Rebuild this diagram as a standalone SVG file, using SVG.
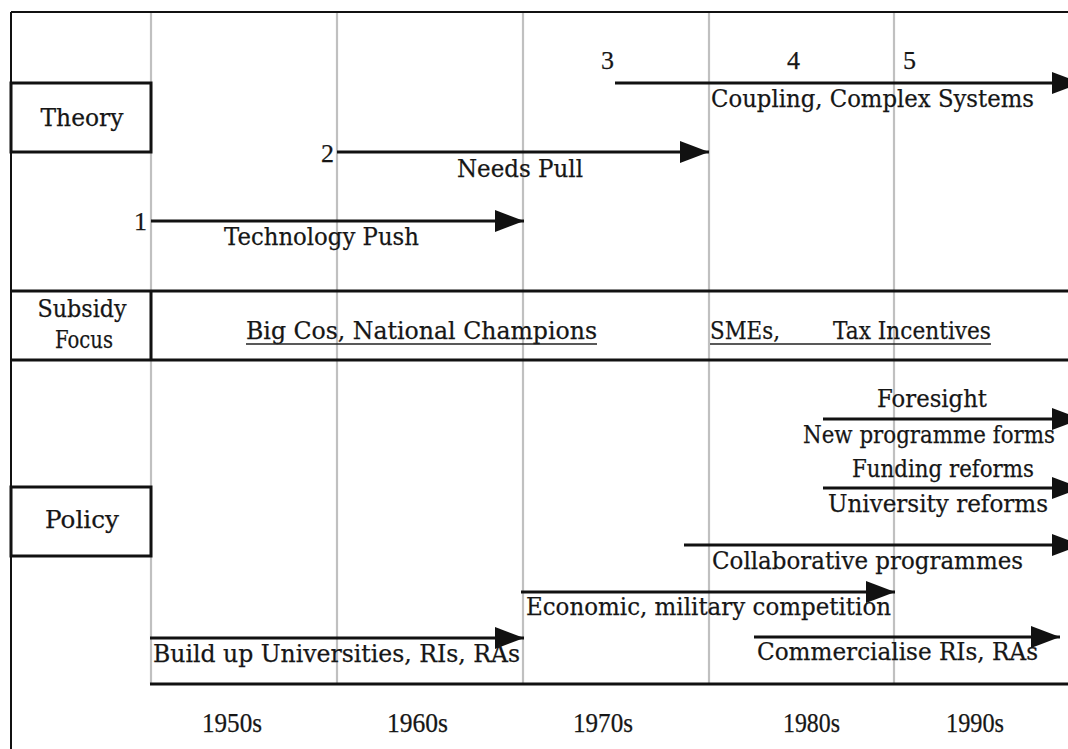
<svg xmlns="http://www.w3.org/2000/svg" width="1068" height="749" viewBox="0 0 1068 749">
  <style>
    text { font-family: "DejaVu Serif", "Liberation Serif", serif; font-size: 25px; fill: #161616; stroke: #161616; stroke-width: 0.25; }
    .num { font-family: "Liberation Serif", "DejaVu Serif", serif; font-size: 26px; }
    .dec { font-family: "Liberation Serif", "DejaVu Serif", serif; font-size: 27px; }
    .grid { stroke: #c0c0c0; stroke-width: 2.2; fill: none; }
    .frame { stroke: #111; stroke-width: 2; fill: none; }
    .box { stroke: #111; stroke-width: 3; fill: #fff; }
    .rule { stroke: #111; stroke-width: 3; fill: none; }
    .arrow { stroke: #111; stroke-width: 3; fill: none; marker-end: url(#head); }
    .ul { stroke: #222; stroke-width: 1.5; }
  </style>
  <defs>
    <marker id="head" viewBox="0 0 29 22" refX="29" refY="11" markerWidth="29" markerHeight="22" markerUnits="userSpaceOnUse" orient="auto">
      <path d="M0,0 L29,11 L0,22 z" fill="#111"/>
    </marker>
  </defs>
  <rect x="0" y="0" width="1068" height="749" fill="#fff"/>

  <g id="grid">
    <line class="grid" x1="151" y1="12" x2="151" y2="684"/>
    <line class="grid" x1="337" y1="12" x2="337" y2="684"/>
    <line class="grid" x1="523" y1="12" x2="523" y2="684"/>
    <line class="grid" x1="709" y1="12" x2="709" y2="684"/>
    <line class="grid" x1="894" y1="12" x2="894" y2="684"/>
  </g>

  <g id="frame">
    <line class="frame" x1="11" y1="12" x2="1068" y2="12"/>
    <line class="frame" x1="11" y1="12" x2="11" y2="749"/>
    <line class="rule" x1="150" y1="684" x2="1068" y2="684"/>
  </g>

  <g id="theory">
    <rect class="box" x="11" y="83" width="140" height="69"/>
    <text x="82" y="126" text-anchor="middle" textLength="83" lengthAdjust="spacingAndGlyphs">Theory</text>
  </g>

  <g id="subsidy">
    <line class="rule" x1="11" y1="291" x2="1068" y2="291"/>
    <line class="rule" x1="11" y1="360" x2="1068" y2="360"/>
    <line class="rule" x1="151" y1="291" x2="151" y2="360"/>
    <text x="82" y="317" text-anchor="middle" textLength="89" lengthAdjust="spacingAndGlyphs">Subsidy</text>
    <text x="84" y="348" text-anchor="middle" textLength="58" lengthAdjust="spacingAndGlyphs">Focus</text>
  </g>

  <g id="subsidy-big">
    <text x="246" y="339" textLength="351" lengthAdjust="spacingAndGlyphs">Big Cos, National Champions</text>
    <line class="ul" x1="246" y1="344" x2="597" y2="344"/>
  </g>

  <g id="subsidy-sme">
    <text x="710" y="339" textLength="70" lengthAdjust="spacingAndGlyphs">SMEs,</text>
    <text x="833" y="339" textLength="158" lengthAdjust="spacingAndGlyphs">Tax Incentives</text>
    <line class="ul" x1="710" y1="344" x2="991" y2="344"/>
  </g>

  <g id="policy">
    <rect class="box" x="11" y="487" width="140" height="69"/>
    <text x="82" y="528" text-anchor="middle" textLength="74" lengthAdjust="spacingAndGlyphs">Policy</text>
  </g>

  <g id="connectors">
    <line class="arrow" x1="151" y1="221" x2="524" y2="221"/>
    <line class="arrow" x1="337" y1="152" x2="709" y2="152"/>
    <line class="arrow" x1="615" y1="83" x2="1081" y2="83"/>
    <line class="arrow" x1="823" y1="419" x2="1081" y2="419"/>
    <line class="arrow" x1="823" y1="488" x2="1081" y2="488"/>
    <line class="arrow" x1="684" y1="545" x2="1081" y2="545"/>
    <line class="arrow" x1="521" y1="592" x2="895" y2="592"/>
    <line class="arrow" x1="150" y1="638" x2="524" y2="638"/>
    <line class="arrow" x1="754" y1="637" x2="1060" y2="637"/>
  </g>

  <g id="tech-push">
    <text class="num" x="147" y="230" text-anchor="end">1</text>
    <text x="224" y="245" textLength="195" lengthAdjust="spacingAndGlyphs">Technology Push</text>
  </g>
  <g id="needs-pull">
    <text class="num" x="334" y="162" text-anchor="end">2</text>
    <text x="457" y="177" textLength="126" lengthAdjust="spacingAndGlyphs">Needs Pull</text>
  </g>
  <g id="coupling">
    <text class="num" x="601" y="69">3</text>
    <text class="num" x="787" y="69">4</text>
    <text class="num" x="903" y="69">5</text>
    <text x="711" y="107" textLength="323" lengthAdjust="spacingAndGlyphs">Coupling, Complex Systems</text>
  </g>

  <g id="foresight">
    <text x="877" y="407" textLength="110" lengthAdjust="spacingAndGlyphs">Foresight</text>
    <text x="803" y="443" textLength="252" lengthAdjust="spacingAndGlyphs">New programme forms</text>
  </g>
  <g id="funding">
    <text x="852" y="477" textLength="182" lengthAdjust="spacingAndGlyphs">Funding reforms</text>
    <text x="828" y="512" textLength="220" lengthAdjust="spacingAndGlyphs">University reforms</text>
  </g>
  <g id="collaborative">
    <text x="712" y="569" textLength="311" lengthAdjust="spacingAndGlyphs">Collaborative programmes</text>
  </g>
  <g id="economic">
    <text x="526" y="615" textLength="365" lengthAdjust="spacingAndGlyphs">Economic, military competition</text>
  </g>
  <g id="buildup">
    <text x="153" y="662" textLength="367" lengthAdjust="spacingAndGlyphs">Build up Universities, RIs, RAs</text>
  </g>
  <g id="commercialise">
    <text x="757" y="660" textLength="281" lengthAdjust="spacingAndGlyphs">Commercialise RIs, RAs</text>
  </g>

  <g id="decades">
    <text class="dec" x="202" y="732" textLength="60" lengthAdjust="spacingAndGlyphs">1950s</text>
    <text class="dec" x="387" y="732" textLength="61" lengthAdjust="spacingAndGlyphs">1960s</text>
    <text class="dec" x="573" y="732" textLength="60" lengthAdjust="spacingAndGlyphs">1970s</text>
    <text class="dec" x="783" y="732" textLength="57" lengthAdjust="spacingAndGlyphs">1980s</text>
    <text class="dec" x="946" y="732" textLength="58" lengthAdjust="spacingAndGlyphs">1990s</text>
  </g>
</svg>
